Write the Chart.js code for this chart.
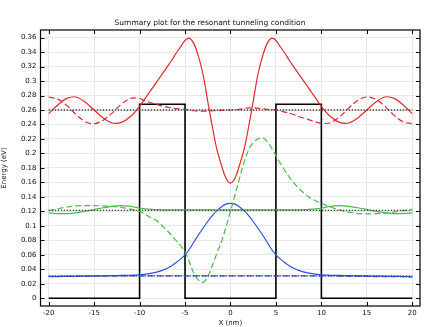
<!DOCTYPE html>
<html>
<head>
<meta charset="utf-8">
<script src="https://cdn.jsdelivr.net/npm/chart.js@4.4.1/dist/chart.umd.min.js"></script>
<style>
  html, body { margin: 0; padding: 0; background: #fff; }
  #wrap { width: 426px; height: 327px; }
</style>
</head>
<body>
<div id="wrap"><canvas id="chart" width="426" height="327"></canvas></div>
<script>
// positions along the structure (nm)
const xs = [-20, -19, -18, -17, -16, -15, -14, -13, -12, -11, -10,
  -9.5, -9, -8.5, -8, -7.5, -7, -6.5, -6, -5.5, -5, -4.5, -4, -3.5, -3, -2.5, -2, -1.5, -1, -0.5, 0,
  0.5, 1, 1.5, 2, 2.5, 3, 3.5, 4, 4.5, 5, 5.5, 6, 6.5, 7, 7.5, 8, 8.5, 9, 9.5, 10,
  11, 12, 13, 14, 15, 16, 17, 18, 19, 20];

// red: resonant level
const redSolid = [0.255, 0.267, 0.276, 0.278, 0.271, 0.260, 0.249, 0.242, 0.243, 0.251, 0.265,
  0.274, 0.283, 0.292, 0.301, 0.310, 0.319, 0.328, 0.338, 0.347, 0.356, 0.359, 0.351, 0.333, 0.308, 0.272, 0.237, 0.206, 0.184, 0.166, 0.159,
  0.166, 0.184, 0.206, 0.237, 0.272, 0.308, 0.333, 0.351, 0.359, 0.356, 0.347, 0.338, 0.328, 0.319, 0.310, 0.301, 0.292, 0.283, 0.274, 0.265,
  0.251, 0.243, 0.242, 0.249, 0.260, 0.271, 0.278, 0.276, 0.267, 0.255];
const redDashed = [0.278, 0.275, 0.266, 0.254, 0.244, 0.241, 0.246, 0.256, 0.268, 0.276, 0.276,
  0.273, 0.271, 0.269, 0.267, 0.2655, 0.264, 0.263, 0.262, 0.2615, 0.261, 0.260, 0.259, 0.2585, 0.2585, 0.2585, 0.259, 0.2593, 0.2596, 0.2598, 0.260,
  0.2605, 0.261, 0.262, 0.263, 0.263, 0.2625, 0.262, 0.261, 0.2605, 0.260, 0.2585, 0.257, 0.2555, 0.2535, 0.251, 0.249, 0.247, 0.245, 0.243, 0.2415,
  0.2425, 0.2506, 0.2626, 0.2732, 0.278, 0.2747, 0.265, 0.2529, 0.2436, 0.2412];

// green: second level
const greenSolid = [0.1178, 0.117, 0.1168, 0.118, 0.120, 0.1225, 0.125, 0.127, 0.1278, 0.127, 0.1245,
  0.1237, 0.123, 0.1226, 0.1223, 0.1222, 0.1222, 0.1222, 0.1222, 0.1222, 0.1222, 0.1222, 0.1222, 0.1222, 0.1222, 0.1222, 0.1222, 0.1222, 0.1222, 0.1222, 0.1222,
  0.1222, 0.1222, 0.1222, 0.1222, 0.1222, 0.1222, 0.1222, 0.1222, 0.1222, 0.1222, 0.1222, 0.1222, 0.1222, 0.1222, 0.1222, 0.1223, 0.1226, 0.123, 0.1237, 0.1245,
  0.127, 0.1278, 0.127, 0.125, 0.1225, 0.120, 0.118, 0.1168, 0.117, 0.1178];
const greenDashed = [0.121, 0.1235, 0.126, 0.1275, 0.128, 0.128, 0.1275, 0.127, 0.1255, 0.123, 0.120,
  0.117, 0.113, 0.110, 0.106, 0.100, 0.094, 0.087, 0.080, 0.073, 0.064, 0.049, 0.034, 0.025, 0.022, 0.030, 0.045, 0.062, 0.078, 0.098, 0.120,
  0.143, 0.166, 0.188, 0.205, 0.215, 0.220, 0.222, 0.217, 0.208, 0.197, 0.186, 0.176, 0.167, 0.159, 0.152, 0.146, 0.141, 0.137, 0.134, 0.131,
  0.126, 0.122, 0.119, 0.117, 0.1165, 0.117, 0.1175, 0.119, 0.121, 0.123];

// blue: ground level
const blueSolid = [0.030, 0.030, 0.0302, 0.0304, 0.0306, 0.0308, 0.031, 0.0312, 0.0315, 0.0318, 0.0323,
  0.033, 0.034, 0.035, 0.0365, 0.0385, 0.041, 0.0445, 0.049, 0.054, 0.060, 0.068, 0.078, 0.088, 0.097, 0.106, 0.114, 0.121, 0.126, 0.130, 0.131,
  0.130, 0.126, 0.121, 0.114, 0.106, 0.097, 0.088, 0.078, 0.068, 0.060, 0.054, 0.049, 0.0445, 0.041, 0.0385, 0.0365, 0.035, 0.034, 0.033, 0.0323,
  0.0318, 0.0315, 0.0312, 0.031, 0.0308, 0.0306, 0.0304, 0.0302, 0.030, 0.030];
const blueDashed = [0.0302, 0.0303, 0.0304, 0.0305, 0.0306, 0.0307, 0.0308, 0.0308, 0.0309, 0.0309, 0.031,
  0.031, 0.031, 0.031, 0.031, 0.031, 0.031, 0.031, 0.031, 0.031, 0.031, 0.031, 0.031, 0.031, 0.031, 0.031, 0.031, 0.031, 0.031, 0.031, 0.031,
  0.031, 0.031, 0.031, 0.031, 0.031, 0.031, 0.031, 0.031, 0.031, 0.031, 0.031, 0.031, 0.031, 0.031, 0.031, 0.031, 0.031, 0.031, 0.031, 0.031,
  0.0308, 0.0306, 0.0304, 0.0302, 0.0301, 0.030, 0.0299, 0.0298, 0.0297, 0.0296];

// energy levels (dotted)
const levelX = [-20, 20];
const levels = [0.26, 0.1215, 0.031];

// double barrier potential
const potX = [-20, -10, -10, -5, -5, 5, 5, 10, 10, 20];
const potY = [0, 0, 0.268, 0.268, 0, 0, 0.268, 0.268, 0, 0];

const pts = (xa, ya) => xa.map((x, i) => ({ x: x, y: ya[i] }));

const RED = '#e3282c', GREEN = '#45be45', BLUE = '#2b4ef0';

function curve(data, color, dashed) {
    return {
        data: data,
        borderColor: color,
        borderWidth: 1.2,
        borderDash: dashed ? [6, 3] : [],
        showLine: true,
        pointRadius: 0,
        tension: 0.35,
        fill: false
    };
}

const datasets = [];
levels.forEach(e => {
    datasets.push({
        data: pts(levelX, [e, e]),
        borderColor: '#444',
        borderWidth: 1.3,
        borderDash: [1.5, 1.5],
        showLine: true,
        pointRadius: 0
    });
});
datasets.push(curve(pts(xs, redSolid), RED, false));
datasets.push(curve(pts(xs, redDashed), RED, true));
datasets.push(curve(pts(xs, greenSolid), GREEN, false));
datasets.push(curve(pts(xs, greenDashed), GREEN, true));
datasets.push(curve(pts(xs, blueSolid), BLUE, false));
datasets.push(curve(pts(xs, blueDashed), BLUE, true));
datasets.push({
    data: pts(potX, potY),
    borderColor: '#000',
    borderWidth: 1.6,
    showLine: true,
    pointRadius: 0,
    tension: 0
});

// frame and inward tick marks on all four sides
const frame = {
    id: 'frame',
    afterDraw(chart) {
        const { ctx, chartArea: a, scales } = chart;
        const len = 4;
        ctx.save();
        ctx.strokeStyle = '#000';
        ctx.lineWidth = 1;
        ctx.beginPath();
        scales.x.ticks.forEach(t => {
            const px = Math.round(scales.x.getPixelForValue(t.value)) + 0.5;
            ctx.moveTo(px, a.top); ctx.lineTo(px, a.top + len);
            ctx.moveTo(px, a.bottom); ctx.lineTo(px, a.bottom - len);
        });
        scales.y.ticks.forEach(t => {
            const py = Math.round(scales.y.getPixelForValue(t.value)) + 0.5;
            ctx.moveTo(a.left, py); ctx.lineTo(a.left + len, py);
            ctx.moveTo(a.right, py); ctx.lineTo(a.right - len, py);
        });
        ctx.stroke();
        ctx.lineWidth = 1.2;
        ctx.strokeRect(a.left, a.top, a.right - a.left, a.bottom - a.top);
        ctx.restore();
    }
};

Chart.defaults.font.family = 'DejaVu Sans';
Chart.defaults.font.size = 7;
Chart.defaults.color = '#111';

new Chart(document.getElementById('chart'), {
    type: 'scatter',
    data: { datasets: datasets },
    options: {
        responsive: false,
        animation: false,
        devicePixelRatio: 1,
        layout: { padding: { left: 0, right: 6, top: 19, bottom: 0 } },
        plugins: {
            legend: { display: false },
            tooltip: { enabled: false },
            title: {
                display: true,
                text: 'Summary plot for the resonant tunneling condition',
                font: { size: 7.5, weight: 'normal' },
                color: '#111',
                padding: { top: 0, bottom: 2 }
            }
        },
        scales: {
            x: {
                type: 'linear',
                min: -20.9,
                max: 20.85,
                grid: { color: '#e8e8e8', drawTicks: false },
                border: { display: false },
                ticks: { stepSize: 5, includeBounds: false, padding: 3, maxRotation: 0 },
                title: { display: true, text: 'X (nm)', padding: { top: -2, bottom: 0 } },
                afterFit: s => { s.height = 21; }
            },
            y: {
                type: 'linear',
                min: -0.0107,
                max: 0.3705,
                grid: { color: '#e8e8e8', drawTicks: false },
                border: { display: false },
                ticks: {
                    stepSize: 0.02,
                    includeBounds: false,
                    padding: 4,
                    callback: v => String(+v.toFixed(2))
                },
                title: { display: true, text: 'Energy (eV)', padding: { top: 0, bottom: 2 } },
                afterFit: s => { s.width = 40.5; }
            }
        }
    },
    plugins: [frame]
});
</script>
</body>
</html>
